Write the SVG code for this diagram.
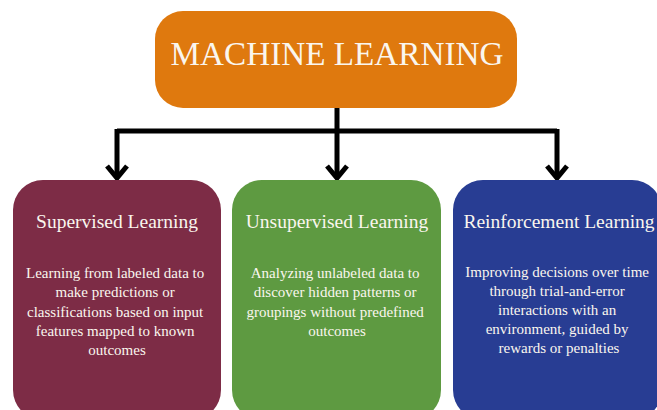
<svg xmlns="http://www.w3.org/2000/svg" width="657" height="410" viewBox="0 0 657 410">
  <style>
    text, tspan { font-family: "Liberation Serif", "Times New Roman", serif; }
    .title { fill: #FAF6EE; text-anchor: middle; }
    .head { font-size: 19.5px; }
    .body { font-size: 15px; }
    .conn { fill: none; stroke: #000; stroke-width: 5; stroke-linejoin: miter; stroke-linecap: butt; }
  </style>
  <rect width="657" height="410" fill="#FFFFFF"/>

  <!-- connectors -->
  <g id="connectors">
    <path class="conn" d="M337,108 V131 M117,131 H557 M117,129 V178 M337,131 V178 M557,129 V178"/>
    <path class="conn" d="M107,166 L117,178 L127,166"/>
    <path class="conn" d="M327,166 L337,178 L347,166"/>
    <path class="conn" d="M547,166 L557,178 L567,166"/>
  </g>

  <g id="root">
    <rect x="155" y="11" width="362" height="97" rx="28" fill="#DF790E"/>
    <text class="title" x="337" y="65" font-size="33.2" font-family="Liberation Serif, serif">MACHINE LEARNING</text>
  </g>

  <g id="supervised">
    <rect x="13" y="180" width="208" height="240" rx="30" fill="#7D2C46"/>
    <text class="title head" x="117" y="228" font-family="Liberation Serif, serif">Supervised Learning</text>
    <text class="title body" x="117" y="278" font-family="Liberation Serif, serif">
      <tspan x="117">Learning from labeled data to</tspan>
      <tspan x="117" dy="19.3">make predictions or</tspan>
      <tspan x="117" dy="19.3">classifications based on input</tspan>
      <tspan x="117" dy="19.3">features mapped to known</tspan>
      <tspan x="117" dy="19.3">outcomes</tspan>
    </text>
  </g>

  <g id="unsupervised">
    <rect x="232" y="180" width="209" height="240" rx="30" fill="#5E9A41"/>
    <text class="title head" x="337" y="228" font-family="Liberation Serif, serif">Unsupervised Learning</text>
    <text class="title body" x="337" y="278" font-family="Liberation Serif, serif">
      <tspan x="337">Analyzing unlabeled data to</tspan>
      <tspan x="337" dy="19.3">discover hidden patterns or</tspan>
      <tspan x="337" dy="19.3">groupings without predefined</tspan>
      <tspan x="337" dy="19.3">outcomes</tspan>
    </text>
  </g>

  <g id="reinforcement">
    <rect x="453" y="180" width="209" height="240" rx="30" fill="#283D93"/>
    <text class="title head" x="559" y="228" font-family="Liberation Serif, serif">Reinforcement Learning</text>
    <text class="title body" x="559" y="277" font-family="Liberation Serif, serif">
      <tspan x="559">Improving decisions over time</tspan>
      <tspan x="559" dy="19">through trial-and-error</tspan>
      <tspan x="559" dy="19">interactions with an</tspan>
      <tspan x="559" dy="19">environment, guided by</tspan>
      <tspan x="559" dy="19">rewards or penalties</tspan>
    </text>
  </g>
</svg>
